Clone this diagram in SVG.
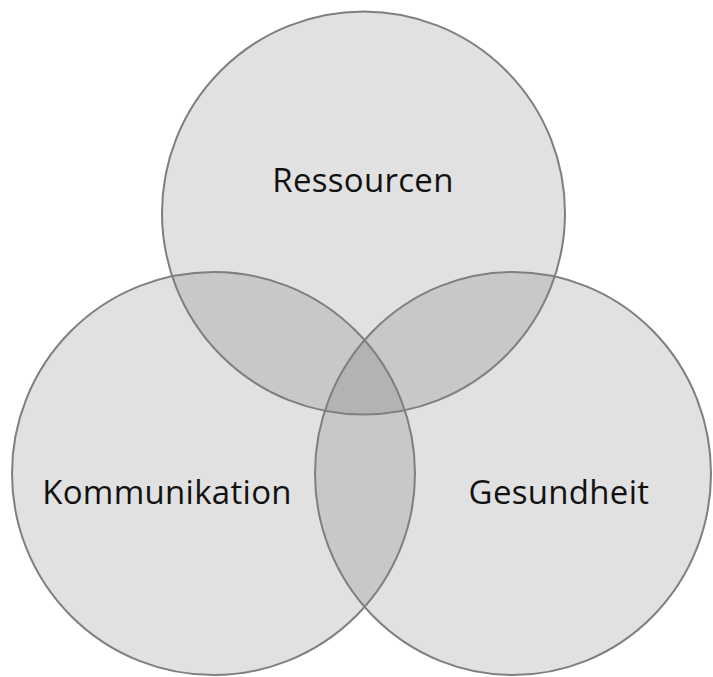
<svg xmlns="http://www.w3.org/2000/svg" width="713" height="677" viewBox="0 0 713 677">
<style>
.fill{fill:#4b4b4b;fill-opacity:0.1667;stroke:none}
.ring{fill:none;stroke:#7f7f7f;stroke-width:2}
.lbl{font-family:"Open Sans","Noto Sans",sans-serif;font-size:33px;letter-spacing:0.3px;fill:#111111;text-anchor:middle}
</style>
<rect width="713" height="677" fill="#ffffff"/>
<g id="fills">
<circle class="fill" cx="363.5" cy="213" r="201.5"/>
<circle class="fill" cx="213.5" cy="473.5" r="201.5"/>
<ellipse class="fill" cx="513" cy="473.5" rx="198" ry="201.5"/>
</g>
<g id="node-ressourcen">
<circle class="ring" cx="363.5" cy="213" r="201.5"/>
<text class="lbl" x="363" y="192">Ressourcen</text>
</g>
<g id="node-kommunikation">
<circle class="ring" cx="213.5" cy="473.5" r="201.5"/>
<text class="lbl" x="167" y="504">Kommunikation</text>
</g>
<g id="node-gesundheit">
<ellipse class="ring" cx="513" cy="473.5" rx="198" ry="201.5"/>
<text class="lbl" x="559" y="504">Gesundheit</text>
</g>
<g id="connectors"></g>
</svg>
